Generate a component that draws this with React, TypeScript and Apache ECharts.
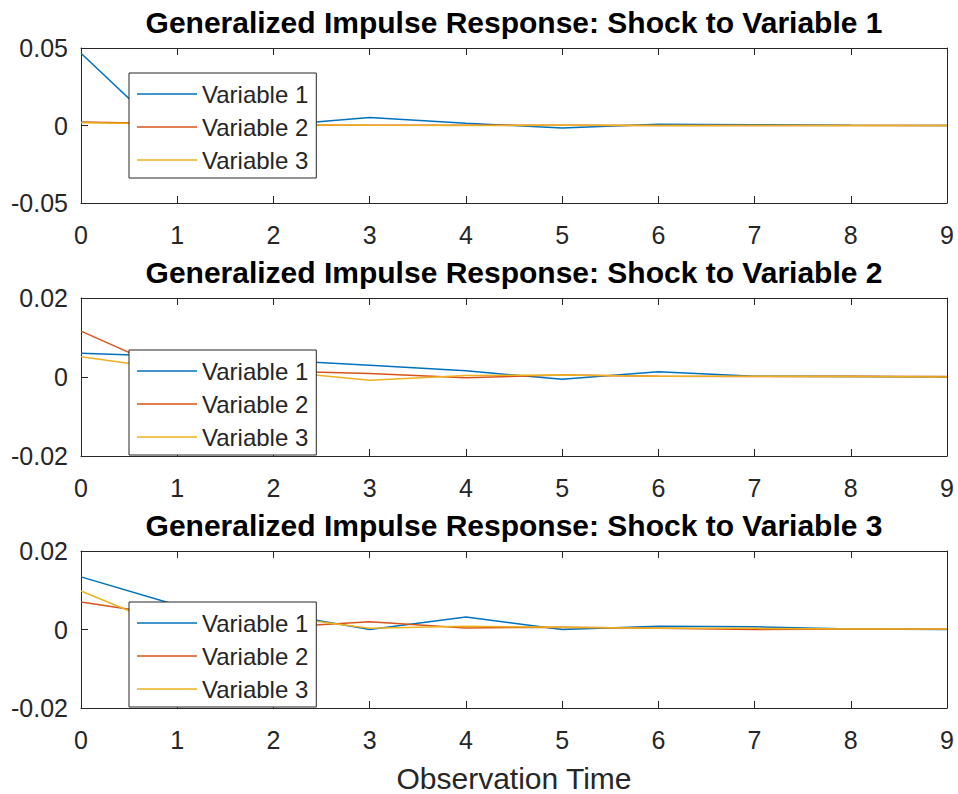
import React, { useEffect, useRef } from "react";
import * as echarts from "echarts";

const steps = [0, 1, 2, 3, 4, 5, 6, 7, 8, 9];
const seriesNames = ["Variable 1", "Variable 2", "Variable 3"];
const panelTitles = [
  "Generalized Impulse Response: Shock to Variable 1",
  "Generalized Impulse Response: Shock to Variable 2",
  "Generalized Impulse Response: Shock to Variable 3",
];
const xAxisTitle = "Observation Time";

// Shock to Variable 1
const shock1Var1 = [0.0466, -0.012, 0.0, 0.0051, 0.0015, -0.0016, 0.0008, 0.0005, 0.0001, 0.0];
const shock1Var2 = [0.0022, 0.0012, 0.0004, 0.0002, 0.0001, 0.0001, 0.0, 0.0, 0.0, 0.0];
const shock1Var3 = [0.0018, 0.001, 0.0005, 0.0001, 0.0, 0.0001, 0.0, 0.0, 0.0, 0.0];
// Shock to Variable 2
const shock2Var1 = [0.006, 0.0052, 0.0043, 0.003, 0.0016, -0.0006, 0.0013, 0.0002, 0.0001, 0.0];
const shock2Var2 = [0.0116, 0.0008, 0.0015, 0.0009, -0.0002, 0.0005, 0.0002, 0.0001, 0.0002, 0.0001];
const shock2Var3 = [0.0051, 0.0018, 0.0015, -0.0008, 0.0004, 0.0005, 0.0002, 0.0002, 0.0001, 0.0];
// Shock to Variable 3
const shock3Var1 = [0.0134, 0.0062, 0.0043, 0.0, 0.0032, 0.0, 0.0008, 0.0007, 0.0001, 0.0];
const shock3Var2 = [0.007, 0.0033, 0.0005, 0.002, 0.0004, 0.0006, 0.0003, 0.0, 0.0001, 0.0001];
const shock3Var3 = [0.0098, -0.0003, 0.0035, 0.0003, 0.0008, 0.0006, 0.0003, 0.0003, 0.0001, 0.0001];

const yLimits = [
  { min: -0.05, max: 0.05, interval: 0.05 },
  { min: -0.02, max: 0.02, interval: 0.02 },
  { min: -0.02, max: 0.02, interval: 0.02 },
];

const panels = [
  [shock1Var1, shock1Var2, shock1Var3],
  [shock2Var1, shock2Var2, shock2Var3],
  [shock3Var1, shock3Var2, shock3Var3],
];

const colors = ["#0072BD", "#D95319", "#EDB120"];
const AX = "#262626";
const FONT = "'Liberation Sans', Arial, Helvetica, sans-serif";

const gridTops = [48, 298, 551];
const gridHeights = [155, 158, 157];
const titleTops = [7.5, 257.5, 510.5];
const legendTops = [73, 350, 602];

export default function App() {
  const ref = useRef<HTMLDivElement>(null);
  useEffect(() => {
    if (!ref.current) return;
    const chart = echarts.init(ref.current, null, { renderer: "svg" });

    const grids = gridTops.map((t, i) => ({
      left: 81,
      width: 866,
      top: t,
      height: gridHeights[i],
      containLabel: false,
    }));

    const xAxes: any[] = [];
    const yAxes: any[] = [];
    panels.forEach((_, i) => {
      const common = {
        gridIndex: i,
        type: "value",
        min: 0,
        max: 9,
        interval: 1,
        splitLine: { show: false },
        axisLine: { show: true, onZero: false, lineStyle: { color: AX, width: 1 } },
        axisTick: { show: true, inside: true, length: 7, lineStyle: { color: AX, width: 1 } },
      };
      xAxes.push({
        ...common,
        position: "bottom",
        axisLabel: { show: true, color: AX, fontSize: 25, fontFamily: FONT, margin: 19 },
      });
      xAxes.push({ ...common, position: "top", axisLabel: { show: false } });

      const ycommon = {
        gridIndex: i,
        type: "value",
        min: yLimits[i].min,
        max: yLimits[i].max,
        interval: yLimits[i].interval,
        splitLine: { show: false },
        axisLine: { show: true, onZero: false, lineStyle: { color: AX, width: 1 } },
        axisTick: { show: true, inside: true, length: 7, lineStyle: { color: AX, width: 1 } },
      };
      yAxes.push({
        ...ycommon,
        position: "left",
        axisLabel: {
          show: true,
          color: AX,
          fontSize: 25,
          fontFamily: FONT,
          margin: 13,
          padding: [5, 0, 0, 0],
          formatter: (v: number) => String(Math.round(v * 1000) / 1000),
        },
      });
      yAxes.push({ ...ycommon, position: "right", axisLabel: { show: false } });
    });

    const series: any[] = [];
    panels.forEach((vars, i) => {
      vars.forEach((vals, k) => {
        series.push({
          type: "line",
          name: seriesNames[k],
          xAxisIndex: i * 2,
          yAxisIndex: i * 2,
          data: steps.map((s, j) => [s, vals[j]]),
          symbol: "none",
          lineStyle: { color: colors[k], width: 1.5 },
          itemStyle: { color: colors[k] },
          z: 2 + k,
        });
      });
    });

    const legends = legendTops.map((t) => ({
      orient: "vertical",
      left: 129,
      top: t,
      data: seriesNames.map((n) => ({ name: n, icon: "rect" })),
      itemWidth: 60,
      itemHeight: 1.5,
      itemGap: 9,
      padding: [9, 8, 6, 8],
      backgroundColor: "#ffffff",
      borderColor: AX,
      borderWidth: 1,
      textStyle: { color: AX, fontSize: 24, fontFamily: FONT, lineHeight: 24 },
      selectedMode: false,
      z: 10,
    }));

    const titles: any[] = panelTitles.map((t, i) => ({
      text: t,
      left: 514,
      top: titleTops[i],
      textAlign: "center",
      padding: 0,
      textStyle: { color: "#000", fontSize: 30, fontWeight: "bold", fontFamily: FONT, lineHeight: 30 },
    }));
    titles.push({
      text: xAxisTitle,
      left: 514,
      top: 763,
      textAlign: "center",
      padding: 0,
      textStyle: { color: AX, fontSize: 30, fontWeight: "normal", fontFamily: FONT, lineHeight: 30 },
    });

    chart.setOption({
      animation: false,
      backgroundColor: "#ffffff",
      color: colors,
      title: titles,
      grid: grids,
      xAxis: xAxes,
      yAxis: yAxes,
      legend: legends,
      series,
    });
    return () => chart.dispose();
  }, []);
  return (
    <div
      ref={ref}
      style={{ position: "absolute", left: 0, top: 0, width: 958, height: 794, background: "#fff" }}
    />
  );
}
